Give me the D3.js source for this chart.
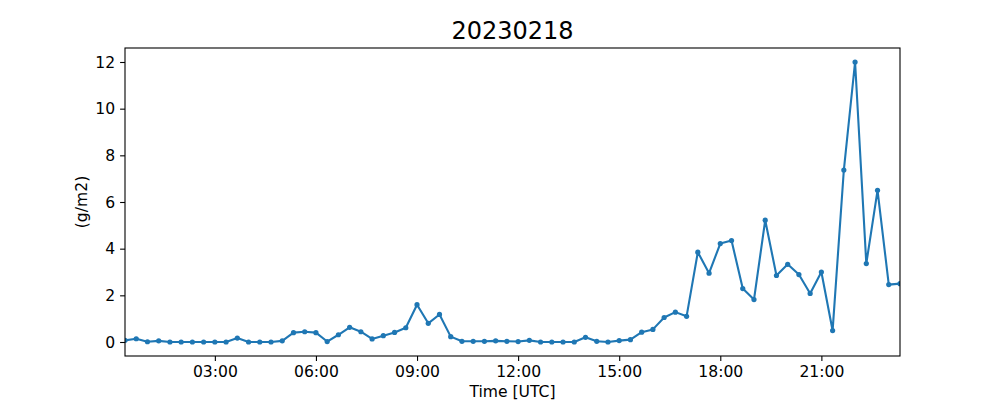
<!DOCTYPE html>
<html>
<head>
<meta charset="utf-8">
<script src="https://cdn.jsdelivr.net/npm/d3@7"></script>
<style>
  html, body { margin: 0; padding: 0; background: #fff; }
  svg { display: block; font-family: "DejaVu Sans", sans-serif; }
</style>
</head>
<body>
<svg id="chart" width="1000" height="400"></svg>
<script>
// ---- data ----
const title = "20230218";
const xLabel = "Time [UTC]";
const yLabel = "(g/m2)";
const startTime = "2023-02-18T00:20:00Z";
const stepMinutes = 20;
const values = [
  0.07, 0.14, 0.01, 0.05, 0.00, 0.00, 0.00, 0.00, 0.00, 0.00,
  0.17, 0.00, 0.00, 0.00, 0.05, 0.40, 0.44, 0.40, 0.02, 0.31,
  0.63, 0.44, 0.13, 0.27, 0.41, 0.61, 1.60, 0.80, 1.18, 0.23,
  0.03, 0.03, 0.03, 0.05, 0.03, 0.02, 0.07, 0.00, 0.00, 0.00,
  0.00, 0.20, 0.03, 0.00, 0.06, 0.10, 0.42, 0.54, 1.05, 1.28,
  1.10, 3.85, 2.95, 4.22, 4.35, 2.29, 1.82, 5.22, 2.85, 3.33,
  2.89, 2.08, 3.00, 0.49, 7.37, 12.00, 3.36, 6.50, 2.46, 2.50
];
const yTicks = [0, 2, 4, 6, 8, 10, 12];

// ---- layout ----
const svg = d3.select("#chart");
const m = { left: 125, right: 100, top: 48, bottom: 44 };
const W = 1000, H = 400;
const x0 = m.left, x1 = W - m.right, y0 = m.top, y1 = H - m.bottom;

const t0 = new Date(startTime);
const data = values.map((v, i) => ({ t: d3.utcMinute.offset(t0, i * stepMinutes), v }));

const x = d3.scaleUtc()
  .domain(d3.extent(data, d => d.t))
  .range([x0, x1]);

const vmin = d3.min(values), vmax = d3.max(values);
const pad = (vmax - vmin) * 0.05;
const y = d3.scaleLinear()
  .domain([vmin - pad, vmax + pad])
  .range([y1, y0]);

const fontSize = 15.6;
const black = "#000";

// x axis
const xAxis = d3.axisBottom(x)
  .ticks(d3.utcHour.every(3))
  .tickFormat(d3.utcFormat("%H:%M"))
  .tickSize(4.9)
  .tickPadding(4.9);
const gx = svg.append("g").attr("transform", `translate(0,${y1})`).call(xAxis);
gx.select(".domain").remove();
gx.selectAll("line").attr("stroke", black).attr("stroke-width", 1.1);
gx.selectAll("text").attr("font-size", fontSize).attr("fill", black)
  .attr("font-family", "DejaVu Sans");

// y axis
const yAxis = d3.axisLeft(y)
  .tickValues(yTicks)
  .tickFormat(d3.format("d"))
  .tickSize(4.9)
  .tickPadding(4.9);
const gy = svg.append("g").attr("transform", `translate(${x0},0)`).call(yAxis);
gy.select(".domain").remove();
gy.selectAll("line").attr("stroke", black).attr("stroke-width", 1.1);
gy.selectAll("text").attr("font-size", fontSize).attr("fill", black)
  .attr("font-family", "DejaVu Sans");

// clip
svg.append("clipPath").attr("id", "clip")
  .append("rect").attr("x", x0).attr("y", y0).attr("width", x1 - x0).attr("height", y1 - y0);

const color = "#1f77b4";
const line = d3.line().x(d => x(d.t)).y(d => y(d.v));
const plot = svg.append("g").attr("clip-path", "url(#clip)");
plot.append("path").datum(data)
  .attr("d", line)
  .attr("fill", "none")
  .attr("stroke", color)
  .attr("stroke-width", 2.1)
  .attr("stroke-linejoin", "round")
  .attr("stroke-linecap", "square");
plot.selectAll("circle").data(data).enter().append("circle")
  .attr("cx", d => x(d.t))
  .attr("cy", d => y(d.v))
  .attr("r", 2.6)
  .attr("fill", color);

// frame
svg.append("rect")
  .attr("x", x0).attr("y", y0)
  .attr("width", x1 - x0).attr("height", y1 - y0)
  .attr("fill", "none").attr("stroke", black).attr("stroke-width", 1.1);

// title
svg.append("text")
  .attr("x", (x0 + x1) / 2).attr("y", 39.3)
  .attr("text-anchor", "middle")
  .attr("font-size", 24).attr("fill", black)
  .text(title);

// x label
svg.append("text")
  .attr("x", (x0 + x1) / 2).attr("y", 396.7)
  .attr("text-anchor", "middle")
  .attr("font-size", fontSize).attr("fill", black)
  .text(xLabel);

// y label
svg.append("text")
  .attr("transform", `translate(87,${(y0 + y1) / 2}) rotate(-90)`)
  .attr("text-anchor", "middle")
  .attr("font-size", fontSize).attr("fill", black)
  .text(yLabel);
</script>
</body>
</html>
